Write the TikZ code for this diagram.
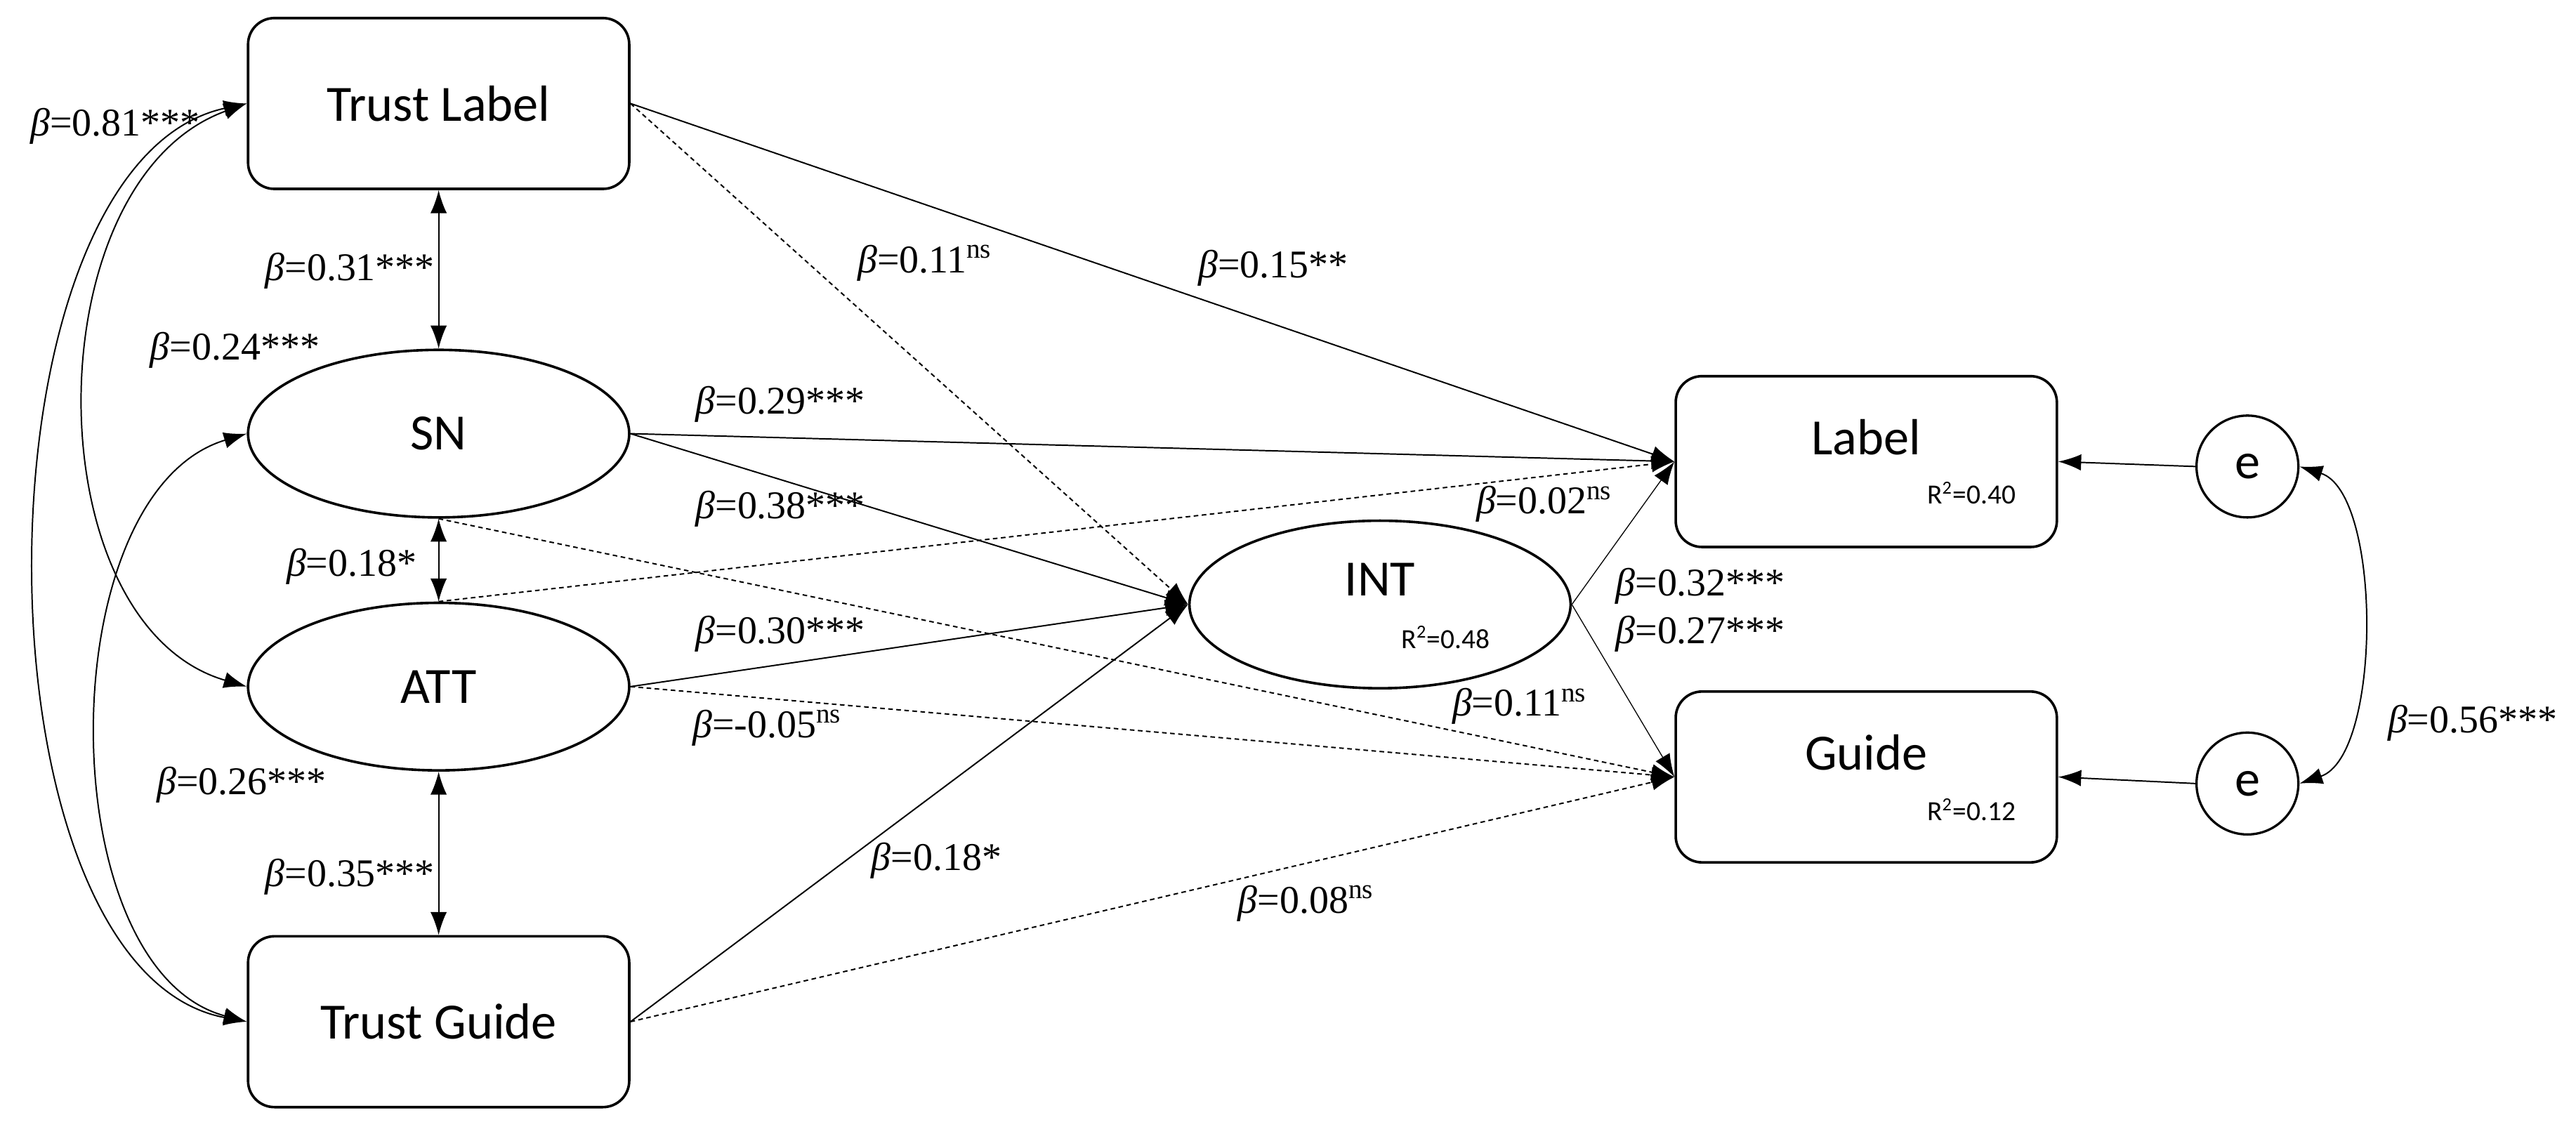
\documentclass[tikz,border=0pt]{standalone}
\usepackage{fontspec}
\setmainfont{Liberation Serif}
\newfontfamily\boxfont{Carlito}
\usetikzlibrary{arrows.meta,shapes.geometric}
\newcommand{\bt}[1]{\textit{β}=#1}
\begin{document}
\begin{tikzpicture}[
		x=0.25mm, y=-0.25mm,
		box/.style={draw, line width=1.1pt, rounded corners=4mm, minimum width=58mm, minimum height=26mm, font=\boxfont\fontsize{22}{24}\selectfont},
		oval/.style={draw, ellipse, line width=1.1pt, minimum width=58mm, minimum height=25.5mm, font=\boxfont\fontsize{22}{24}\selectfont},
		err/.style={draw, ellipse, line width=1pt, minimum width=15.5mm, minimum height=15.5mm, inner sep=0pt, font=\boxfont\fontsize{22}{24}\selectfont},
		path/.style={line width=0.6pt, -{Latex[length=3.5mm,width=2.5mm]}},
		nspath/.style={path, dashed, dash pattern=on 2pt off 1.5pt},
		cov/.style={line width=0.6pt, {Latex[length=3.5mm,width=2.5mm]}-{Latex[length=3.5mm,width=2.5mm]}},
		coef/.style={font=\fontsize{17}{19}\selectfont, inner sep=1pt},
		rsq/.style={font=\boxfont\fontsize{12}{14}\selectfont, inner sep=0pt}
	]
	\useasboundingbox (0,0) rectangle (1568,686);
	% exogenous
	\node[box] (tlabel) at (267,63) {Trust Label};
	\node[oval] (sn) at (267,264) {SN};
	\node[oval] (att) at (267,418) {ATT};
	\node[box] (tguide) at (267,622) {Trust Guide};
	% endogenous
	\node[oval] (int) at (840,368) {};
	\node[box] (label) at (1136,281) {};
	\node[box] (guide) at (1136,473) {};
	\node[font=\boxfont\fontsize{22}{24}\selectfont] (intt) at (840,353) {INT};
	\node[font=\boxfont\fontsize{22}{24}\selectfont] (labelt) at (1136,266) {Label};
	\node[font=\boxfont\fontsize{22}{24}\selectfont] (guidet) at (1136,458) {Guide};
	\node[rsq] (rint) at (880,388) {R\textsuperscript{2}=0.48};
	\node[rsq] (rlabel) at (1200,300) {R\textsuperscript{2}=0.40};
	\node[rsq] (rguide) at (1200,493) {R\textsuperscript{2}=0.12};
	\node[err] (e1) at (1368,284) {e};
	\node[err] (e2) at (1368,477) {e};

	% paths
	\draw[path] (tlabel.east) -- (label.west);
	\draw[nspath] (tlabel.east) -- (int.west);
	\draw[path] (sn.east) -- (label.west);
	\draw[path] (sn.east) -- (int.west);
	\draw[nspath] (sn.south) -- (guide.west);
	\draw[nspath] (att.north) -- (label.west);
	\draw[path] (att.east) -- (int.west);
	\draw[nspath] (att.east) -- (guide.west);
	\draw[path] (tguide.east) -- (int.west);
	\draw[nspath] (tguide.east) -- (guide.west);
	\draw[path, line width=0.4pt] (int.east) -- (label.west);
	\draw[path, line width=0.4pt] (int.east) -- (guide.west);
	\draw[path] (e1.west) -- (label.east);
	\draw[path] (e2.west) -- (guide.east);

	% covariances
	\draw[cov] (tlabel) -- (sn);
	\draw[cov] (sn) -- (att);
	\draw[cov] (att) -- (tguide);
	\draw[cov] (tlabel.west) .. controls (-20,100) and (-20,590) .. (tguide.west);
	\draw[cov] (tlabel.west) .. controls (20,110) and (20,380) .. (att.west);
	\draw[cov] (sn.west) .. controls (30,300) and (30,590) .. (tguide.west);
	\draw[cov] (e1.east) .. controls (1450,300) and (1450,460) .. (e2.east);

	% coefficients
	\node[coef] (c1) at (70,77) {\bt{0.81***}};
	\node[coef] (c2) at (213,165) {\bt{0.31***}};
	\node[coef] (c3) at (143,213) {\bt{0.24***}};
	\node[coef] (c4) at (214,345) {\bt{0.18*}};
	\node[coef] (c5) at (147,478) {\bt{0.26***}};
	\node[coef] (c6) at (213,534) {\bt{0.35***}};
	\node[coef] (c7) at (563,160) {\bt{0.11\textsuperscript{ns}}};
	\node[coef] (c8) at (775,163) {\bt{0.15**}};
	\node[coef] (c9) at (475,246) {\bt{0.29***}};
	\node[coef] (c10) at (475,310) {\bt{0.38***}};
	\node[coef] (c11) at (475,386) {\bt{0.30***}};
	\node[coef] (c12) at (467,443) {\bt{-0.05\textsuperscript{ns}}};
	\node[coef] (c13) at (570,524) {\bt{0.18*}};
	\node[coef] (c14) at (795,550) {\bt{0.08\textsuperscript{ns}}};
	\node[coef] (c15) at (940,307) {\bt{0.02\textsuperscript{ns}}};
	\node[coef] (c16) at (1035,357) {\bt{0.32***}};
	\node[coef] (c17) at (1035,386) {\bt{0.27***}};
	\node[coef] (c18) at (925,430) {\bt{0.11\textsuperscript{ns}}};
	\node[coef] (c19) at (1505,440) {\bt{0.56***}};
\end{tikzpicture}
\end{document}
